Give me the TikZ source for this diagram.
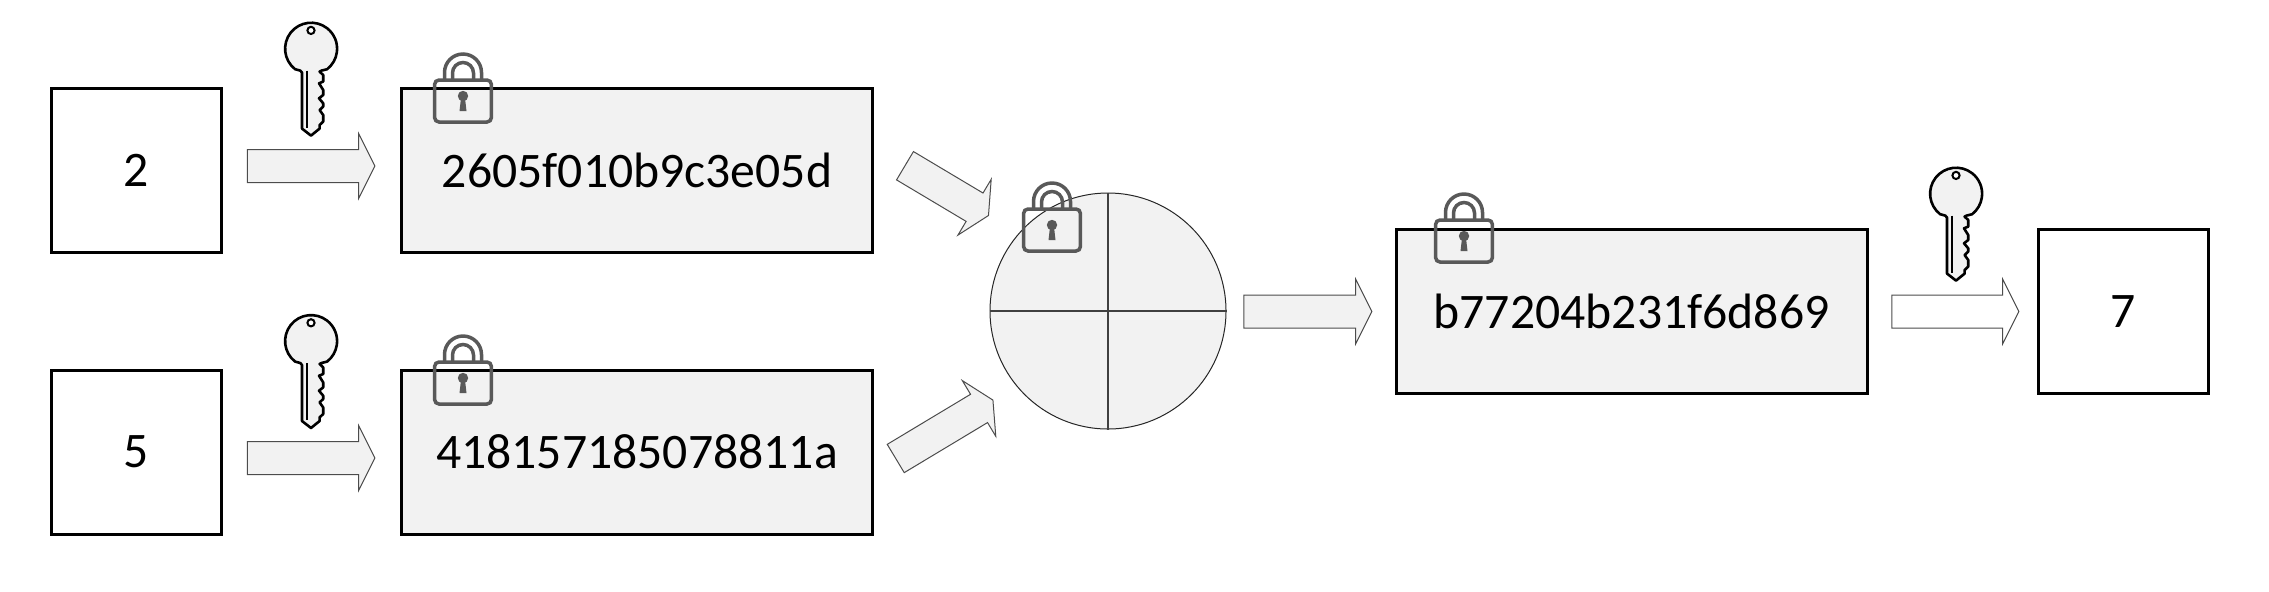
\documentclass[tikz,border=0pt]{standalone}
\usepackage{fontspec}
\setmainfont{Carlito}
\usetikzlibrary{shapes.arrows}
\definecolor{lightfill}{HTML}{F2F2F2}
\definecolor{lockgray}{HTML}{595959}
\newcommand{\keyicon}[2]{
  \begin{scope}[shift={(#1,#2)}]
    \draw[black, line width=1.3pt, line join=round, fill=lightfill]
      (-15.9,20.6) arc[start angle=232, end angle=-52, radius=13pt]
      .. controls (11,22) and (9,22) .. (8.6,23) -- (12.2,26.4) -- (12.2,33) -- (8,34.7) -- (12.2,41.4)
      -- (12.2,46.4) -- (8,49.7) -- (12.2,54.7) -- (12.2,58) -- (8.6,61.4) -- (12.2,66.4)
      -- (12.2,73) -- (8.6,76.4) -- (8.6,80) -- (0,87) -- (-9,80) -- (-9,24)
      .. controls (-9,22) and (-11,22) .. cycle;
    \draw[black, line width=1pt] (-3.9,22) -- (-3.9,79);
    \draw[black, line width=1pt, fill=white] (0,-18.2) circle[radius=1.8pt];
  \end{scope}
}
\newcommand{\lockicon}[2]{
  \begin{scope}[shift={(#1,#2)}, lockgray, line width=1.75pt]
    \draw[rounded corners=2.2pt] (-28.4,0) rectangle (28.4,42);
    \draw (-18.5,0) -- (-18.5,-7.5) arc[start angle=180, end angle=0, radius=9.25pt] -- (18.5,0);
    \draw (-10.5,0) -- (-10.5,-7) arc[start angle=180, end angle=0, radius=5.25pt] -- (10.5,0);
    \fill (0,16) circle[radius=2.6pt];
    \fill (-2,18) -- (-3.5,31) -- (3.5,31) -- (2,18) -- cycle;
  \end{scope}
}

\begin{document}
\begin{tikzpicture}[x=0.5pt, y=-0.5pt]
  \tikzstyle{plainbox} = [rectangle, draw=black, line width=1.5pt, inner sep=0pt,
    minimum height=82pt, font=\fontsize{24.85}{30}\selectfont];
  \tikzstyle{numbox} = [plainbox, minimum width=85pt];
  \tikzstyle{cipherbox} = [plainbox, fill=lightfill, minimum width=235.5pt];
  \tikzstyle{blockarrow} = [single arrow, draw=black!70, line width=0.5pt, fill=lightfill,
    inner xsep=0pt, inner ysep=8pt, outer sep=0pt, minimum width=32pt,
    single arrow head extend=8pt, single arrow tip angle=127, single arrow head indent=0pt];
  \useasboundingbox (0,0) rectangle (2269,591);

  \node[numbox] (two) at (136,170) {2};
  \node[numbox] (five) at (136,452) {5};
  \node[numbox] (seven) at (2123,311.5) {7};
  \node[cipherbox] (cipherTwo) at (637,170) {2605f010b9c3e05d};
  \node[cipherbox] (cipherFive) at (637,452) {418157185078811a};
  \node[cipherbox] (cipherSum) at (1631.5,311.5) {b77204b231f6d869};

  \node[blockarrow, minimum height=63.75pt] (encTwo) at (307,166) {};
  \node[blockarrow, minimum height=63.75pt] (encFive) at (307,458) {};
  \node[blockarrow, minimum height=48.6pt, rotate=-30.8] (inTwo) at (943.2,188.5) {};
  \node[blockarrow, minimum height=56.7pt, rotate=31] (inFive) at (940.8,431.4) {};
  \node[blockarrow, minimum height=64pt] (outSum) at (1303.7,311.5) {};
  \node[blockarrow, minimum height=63.5pt, fill=white] (decSum) at (1951.2,311.5) {};

  \node[circle, draw=black!85, line width=0.5pt, fill=lightfill, inner sep=0pt, minimum size=118pt] (adder) at (1108,311) {};
  \draw[black!75, line width=0.6pt] (adder.north) -- (adder.south);
  \draw[black!75, line width=0.6pt] (adder.west) -- (adder.east);

  \keyicon{311}{48.6}
  \keyicon{311}{341}
  \keyicon{1956}{193.6}

  \lockicon{463}{80}
  \lockicon{463}{362}
  \lockicon{1052}{209}
  \lockicon{1464}{220}
\end{tikzpicture}
\end{document}
